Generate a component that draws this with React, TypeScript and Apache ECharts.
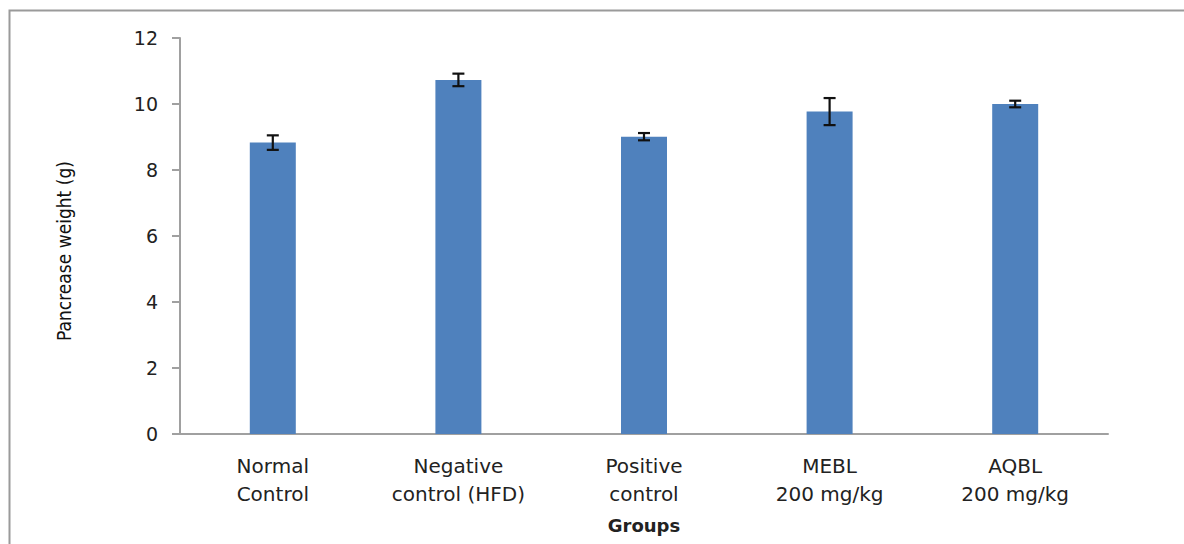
import React, { useEffect, useRef } from "react";
import * as echarts from "echarts";

const categories = [
  "Normal\nControl",
  "Negative\ncontrol (HFD)",
  "Positive\ncontrol",
  "MEBL\n200 mg/kg",
  "AQBL\n200 mg/kg",
];
const means = [8.83, 10.73, 9.01, 9.77, 10.0];
const errors = [0.22, 0.19, 0.11, 0.41, 0.1];
const yTicks = { min: 0, max: 12, interval: 2 };
const yTitle = "Pancrease weight (g)";
const xTitle = "Groups";

export default function App() {
  const ref = useRef<HTMLDivElement>(null);
  useEffect(() => {
    document.body.style.margin = "0";
    const chart = echarts.init(ref.current!, undefined, { renderer: "svg" });
    const errData = means.map((m, i) => [i, m - errors[i], m + errors[i]]);
    chart.setOption({
      animation: false,
      backgroundColor: "#ffffff",
      grid: { left: 180, right: 76, top: 38, bottom: 110 },
      graphic: [
        {
          type: "polyline",
          shape: { points: [[9.5, 544], [9.5, 10.5], [1184, 10.5]] },
          style: { stroke: "#9a9a9a", lineWidth: 2, fill: "none" },
          silent: true,
        },
        {
          type: "text",
          x: 64,
          y: 251,
          rotation: Math.PI / 2,
          style: {
            text: yTitle,
            fill: "#111",
            font: "19px 'DejaVu Sans Condensed', 'DejaVu Sans', sans-serif",
            align: "center",
            verticalAlign: "middle",
          },
          silent: true,
        },
      ],
      xAxis: {
        type: "category",
        data: categories,
        axisLine: { lineStyle: { color: "#a0a0a0", width: 2 } },
        axisTick: { show: false },
        axisLabel: {
          color: "#222",
          fontFamily: "DejaVu Sans",
          fontSize: 20,
          lineHeight: 28,
          margin: 18,
        },
        name: xTitle,
        nameLocation: "middle",
        nameGap: 82,
        nameTextStyle: {
          color: "#222",
          fontFamily: "DejaVu Sans",
          fontWeight: "bold",
          fontSize: 18,
        },
      },
      yAxis: {
        type: "value",
        min: yTicks.min,
        max: yTicks.max,
        interval: yTicks.interval,
        splitLine: { show: false },
        axisLine: { show: true, lineStyle: { color: "#a0a0a0", width: 2 } },
        axisTick: { show: true, length: 8, lineStyle: { color: "#a0a0a0", width: 2 } },
        axisLabel: {
          color: "#222",
          fontFamily: "DejaVu Sans",
          fontSize: 19,
          margin: 22,
        },
      },
      series: [
        {
          type: "bar",
          data: means,
          barWidth: 46,
          itemStyle: { color: "#4f81bd" },
        },
        {
          type: "custom",
          data: errData,
          z: 10,
          renderItem: (params: any, api: any) => {
            const x = api.value(0);
            const lo = api.coord([x, api.value(1)]);
            const hi = api.coord([x, api.value(2)]);
            const hw = 6;
            const style = { stroke: "#111", lineWidth: 2.2 };
            return {
              type: "group",
              children: [
                { type: "line", shape: { x1: lo[0], y1: lo[1], x2: hi[0], y2: hi[1] }, style },
                { type: "line", shape: { x1: lo[0] - hw, y1: lo[1], x2: lo[0] + hw, y2: lo[1] }, style },
                { type: "line", shape: { x1: hi[0] - hw, y1: hi[1], x2: hi[0] + hw, y2: hi[1] }, style },
              ],
            };
          },
        },
      ],
    });
    return () => chart.dispose();
  }, []);
  return <div ref={ref} style={{ width: 1184, height: 544 }} />;
}
